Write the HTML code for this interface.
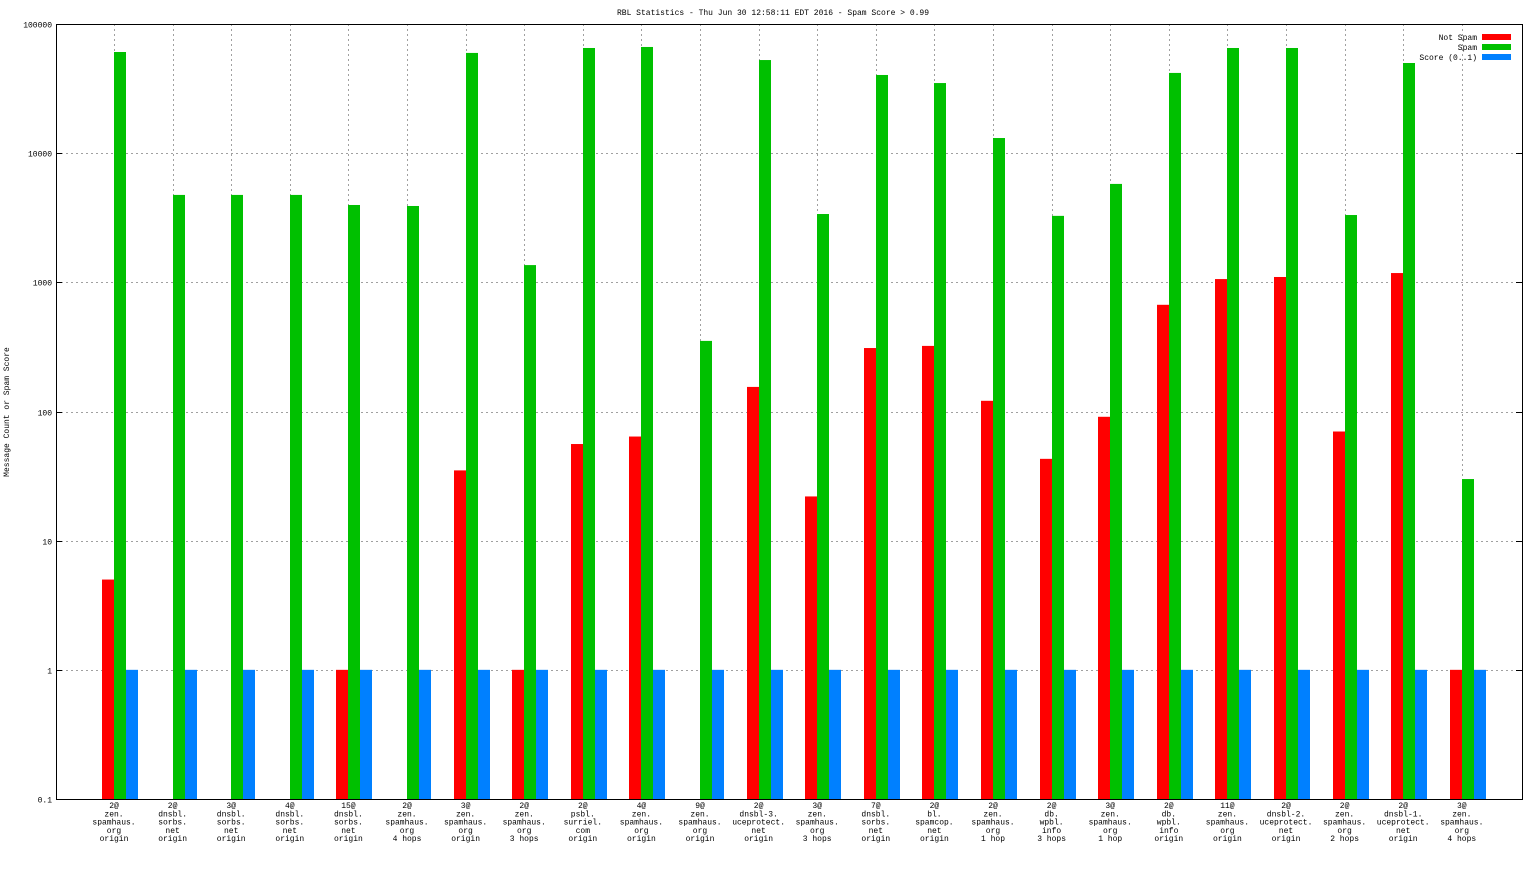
<!DOCTYPE html>
<html><head><meta charset="utf-8"><style>
html,body{margin:0;padding:0;background:#fff;}
svg text{font-family:"Liberation Mono","DejaVu Sans Mono",monospace;font-size:8px;fill:#000;}
</style></head><body>
<svg id="chart" width="1536" height="864" xmlns="http://www.w3.org/2000/svg">
<text x="773" y="15" text-anchor="middle">RBL Statistics - Thu Jun 30 12:58:11 EDT 2016 - Spam Score &gt; 0.99</text>
<text transform="translate(9,412) rotate(-90)" text-anchor="middle">Message Count or Spam Score</text>
<g id="grid"></g><g id="bars"></g><g id="axes"></g>
<g>
<text x="1477" y="40" text-anchor="end">Not Spam</text>
<rect x="1482" y="34" width="29" height="6" fill="#ff0000"/>
<text x="1477" y="50" text-anchor="end">Spam</text>
<rect x="1482" y="44" width="29" height="6" fill="#00c000"/>
<text x="1477" y="60" text-anchor="end">Score (0..1)</text>
<rect x="1482" y="54" width="29" height="6" fill="#0080ff"/>
</g>
</svg>
<script>
const categories = [
["2@","zen.","spamhaus.","org","origin"],["2@","dnsbl.","sorbs.","net","origin"],["3@","dnsbl.","sorbs.","net","origin"],["4@","dnsbl.","sorbs.","net","origin"],
["15@","dnsbl.","sorbs.","net","origin"],["2@","zen.","spamhaus.","org","4 hops"],["3@","zen.","spamhaus.","org","origin"],["2@","zen.","spamhaus.","org","3 hops"],
["2@","psbl.","surriel.","com","origin"],["4@","zen.","spamhaus.","org","origin"],["9@","zen.","spamhaus.","org","origin"],["2@","dnsbl-3.","uceprotect.","net","origin"],
["3@","zen.","spamhaus.","org","3 hops"],["7@","dnsbl.","sorbs.","net","origin"],["2@","bl.","spamcop.","net","origin"],["2@","zen.","spamhaus.","org","1 hop"],
["2@","db.","wpbl.","info","3 hops"],["3@","zen.","spamhaus.","org","1 hop"],["2@","db.","wpbl.","info","origin"],["11@","zen.","spamhaus.","org","origin"],
["2@","dnsbl-2.","uceprotect.","net","origin"],["2@","zen.","spamhaus.","org","2 hops"],["2@","dnsbl-1.","uceprotect.","net","origin"],["3@","zen.","spamhaus.","org","4 hops"]];
const notSpam = [5,0,0,0,1,0,35,1,56,64,0,155,22,310,322,121,43,91,670,1060,1100,70,1180,1];
const spam = [60700,4750,4750,4750,3970,3900,59700,1360,65200,66400,352,52600,3380,40300,34900,13100,3270,5780,41800,65200,65200,3320,49900,30];
const score = [1,1,1,1,1,1,1,1,1,1,1,1,1,1,1,1,1,1,1,1,1,1,1,1];
const yTicks = [0.1,1,10,100,1000,10000,100000];
const yTickLabels = ["0.1","1","10","100","1000","10000","100000"];

const NS="http://www.w3.org/2000/svg";
const L=56,R=1522,T=24,B=799;
function yScale(v){return B-(Math.log10(v)+1)/6*(B-T);}
function xCenter(i){return 120+58.6*i;}
function mk(tag,attrs,parent){const e=document.createElementNS(NS,tag);for(const k in attrs)e.setAttribute(k,attrs[k]);parent.appendChild(e);return e;}
const grid=document.getElementById('grid'),bars=document.getElementById('bars'),axes=document.getElementById('axes');
yTicks.forEach((t,k)=>{
  const y=Math.round(yScale(t))+0.5;
  if(k>0&&k<yTicks.length-1){const g=mk('line',{x1:L,x2:R,y1:y,y2:y,stroke:'#a0a0a0','stroke-dasharray':'2,3','stroke-width':1},grid);
  
  }
  const tl=mk('line',{x1:L,x2:L+6,y1:y,y2:y,stroke:'#000'},axes);
  
  
  const tr=mk('line',{x1:R-6,x2:R,y1:y,y2:y,stroke:'#000'},axes);
  
  
  const tx=mk('text',{x:L-4,y:y+3,'text-anchor':'end'},axes);tx.textContent=yTickLabels[k];
  
  
});
categories.forEach((c,i)=>{
  const cx=xCenter(i);
  const gx=Math.round(cx-6)+0.5;
  const g=mk('line',{x1:gx,x2:gx,y1:T,y2:B,stroke:'#a0a0a0','stroke-dasharray':'2,3'},grid);
  
  
  const series=[[notSpam[i],'#ff0000','bar-not-spam'],[spam[i],'#00c000','bar-spam'],[score[i],'#0080ff','bar-score']];
  series.forEach((s,j)=>{
    if(!(s[0]>0))return;
    const y=yScale(s[0]);
    const r=mk('rect',{x:Math.round(cx-18+12*j),y:y,width:12,height:B-y,fill:s[1]},bars);
    
    
  });
  const t=mk('text',{x:cx-6,'text-anchor':'middle'},axes);
  
  
  c.forEach((line,k)=>{const ts=mk('tspan',{x:cx-6,y:808+8.3*k},t);ts.textContent=line;});
});
const bd=mk('rect',{x:L+0.5,y:T+0.5,width:R-L,height:B-T,fill:'none',stroke:'#000'},axes);


</script>
</body></html>
